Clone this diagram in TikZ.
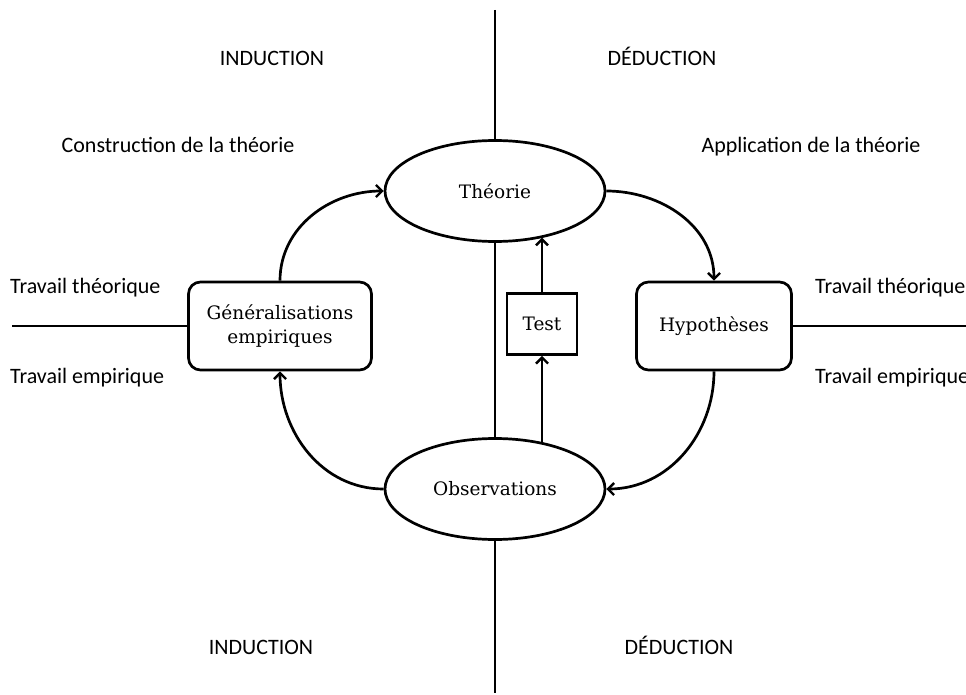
\documentclass[tikz,border=0pt]{standalone}
\usepackage{fontspec}
\setmainfont{DejaVu Serif}
\newfontfamily\labfont{Carlito}
\usetikzlibrary{arrows.meta,shapes.geometric}
\tikzset{
  every picture/.style={x=1pt,y=-1pt},
  ln/.style={line width=2.7pt},
  arr/.style={ln,-{Straight Barb[length=6pt,width=12pt,line width=2.4pt]}},
  ell/.style={ellipse,draw,line width=2.7pt,minimum width=220pt,minimum height=101pt,inner sep=0pt,font=\fontsize{18.5}{22}\selectfont},
  rbox/.style={rectangle,draw,line width=2.7pt,rounded corners=12pt,align=center,inner sep=0pt,font=\fontsize{18.5}{24}\selectfont},
  tbox/.style={rectangle,draw,line width=2.7pt,inner sep=0pt,minimum width=70pt,minimum height=61pt,font=\fontsize{18.5}{22}\selectfont},
  lab/.style={font=\labfont\fontsize{22}{26}\selectfont,inner sep=0pt,text height=15pt,text depth=5pt},
  labl/.style={lab,anchor=west}
}
\begin{document}
\begin{tikzpicture}
\useasboundingbox (0,0) rectangle (966,695);
\fill[white] (0,0) rectangle (966,695);
% nodes
\node[ell] (theo) at (495,191) {Théorie};
\node[ell] (obs) at (495,489) {Observations};
\node[rbox,minimum width=183pt,minimum height=88pt] (gen) at (280,326) {Généralisations\\empiriques};
\node[rbox,minimum width=155pt,minimum height=88pt] (hyp) at (714,326) {Hypothèses};
\node[tbox] (test) at (542,324) {Test};
% labels
\node[lab] (ind1) at (272,61) {INDUCTION};
\node[lab] (ded1) at (662,61) {DÉDUCTION};
\node[lab] (cons) at (178,148) {Construction de la théorie};
\node[lab] (appl) at (811,148) {Application de la théorie};
\node[labl] (tthl) at (10,288) {Travail théorique};
\node[labl] (teml) at (10,378) {Travail empirique};
\node[labl] (tthr) at (815,288) {Travail théorique};
\node[labl] (temr) at (815,378) {Travail empirique};
\node[lab] (ind2) at (261,649) {INDUCTION};
\node[lab] (ded2) at (679,649) {DÉDUCTION};
% axis coordinates
\coordinate (vtop) at (495,10);
\coordinate (vbot) at (495,693);
\coordinate (hl) at (12,326);
\coordinate (hr) at (970,326);
% axes
\draw[ln] (vtop) -- (theo.north);
\draw[ln] (theo.south) -- (obs.north);
\draw[ln] (obs.south) -- (vbot);
\draw[ln] (hl) -- (gen.west);
\draw[ln] (hyp.east) -- (hr);
% cycle
\draw[arr] (gen.north) to[out=90,in=180] (theo.west);
\draw[arr] (theo.east) to[out=0,in=90] (hyp.north);
\draw[arr] (hyp.south) to[out=-90,in=0] (obs.east);
\draw[arr] (obs.west) to[out=180,in=-90] (gen.south);
% test
\draw[arr] (test.south |- obs.44) -- (test.south);
\draw[arr] (test.north) -- (test.north |- theo.-44);
\end{tikzpicture}
\end{document}
